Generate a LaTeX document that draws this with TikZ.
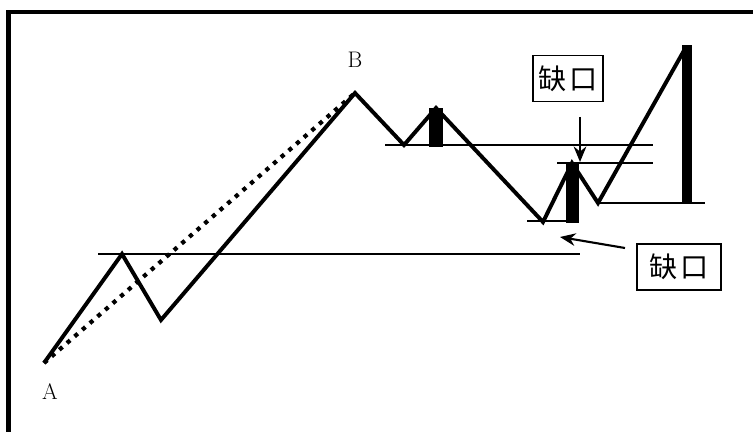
\documentclass[tikz,border=0pt]{standalone}
\usepackage{fontspec}
\newfontfamily\cjk{Noto Sans CJK SC}
\usetikzlibrary{arrows.meta,positioning,calc}

\begin{document}
\begin{tikzpicture}[
    x=0.025cm, y=-0.025cm,
    frame/.style={line width=3.4pt, line join=miter},
    wave/.style={line width=2.8pt, line join=miter},
    trend/.style={line width=3pt, dash pattern=on 3pt off 4.2pt},
    level/.style={line width=1.1pt},
    heavy/.style={line width=2pt},
    bar/.style={fill=black},
    gapbox/.style={draw, line width=1.1pt, inner sep=0pt, minimum height=1.14cm, font=\cjk\fontsize{20}{20}\selectfont},
    pointer/.style={-{Stealth[length=11pt,width=9pt]}, line width=1.5pt},
    ptlabel/.style={font=\fontsize{16}{16}\selectfont},
]
\useasboundingbox (0,0) rectangle (753,432);
\draw[frame] (8.5,432) -- (8.5,12) -- (753,12);

% turning points of the wave
\coordinate (A) at (44,363);
\coordinate (p1) at (122,254);
\coordinate (t1) at (161,320);
\coordinate (B) at (355,93);
\coordinate (t2) at (404,145);
\coordinate (p2) at (436,108);
\coordinate (t3) at (543,222);
\coordinate (p3) at (572,163);
\coordinate (t4) at (598,203);
\coordinate (p4) at (686,47);

\node[ptlabel] (lblA) at (50,392) {A};
\node[ptlabel] (lblB) at (355,60) {B};

% levels
\draw[level] (98,254) -- (240,254);
\draw[heavy] (240,254) -- (580,254);
\draw[level] (385,145) -- (653,145);
\draw[heavy] (557,163) -- (653,163);
\draw[level] (t4) -- (705,203);
\draw[level] (527,221) -- (567,221);

% bars
\fill[bar] (429,108) rectangle (443,147);
\fill[bar] (566,163) rectangle (579,223);
\fill[bar] (682,45) rectangle (692,204);

\draw[trend] (A) -- (B);
\draw[wave] (A) -- (p1) -- (t1) -- (B) -- (t2) -- (p2) -- (t3) -- (p3) -- (t4) -- (p4);

% gap labels
\node[gapbox, minimum width=1.75cm] (gap1) at (568,78.5) {缺\hspace{2pt}口};
\node[gapbox, minimum width=2.1cm] (gap2) at (679,267) {缺\hspace{2pt}口};
\coordinate (g1tail) at (580,117);
\coordinate (g1tip) at (580,162);
\coordinate (g2tail) at (625,248);
\coordinate (g2tip) at (560,237);
\draw[pointer] (g1tail) -- (g1tip);
\draw[pointer] (g2tail) -- (g2tip);
\end{tikzpicture}
\end{document}
